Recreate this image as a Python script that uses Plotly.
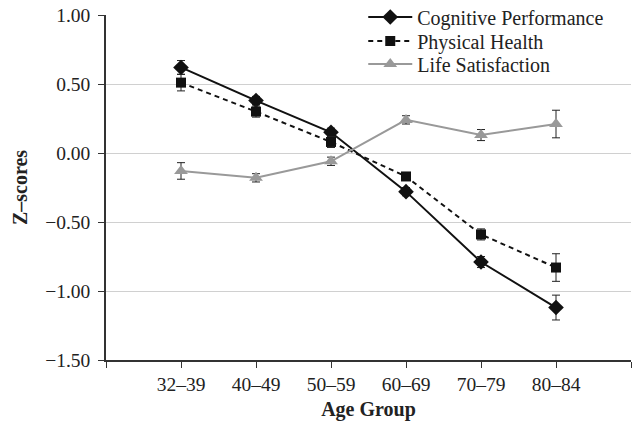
import plotly.graph_objects as go

age_groups = ["32–39", "40–49", "50–59", "60–69", "70–79", "80–84"]
cognitive = [0.62, 0.38, 0.15, -0.28, -0.79, -1.12]
cognitive_err = [0.05, 0.03, 0.03, 0.03, 0.04, 0.09]
physical = [0.51, 0.30, 0.08, -0.17, -0.59, -0.83]
physical_err = [0.06, 0.04, 0.04, 0.02, 0.04, 0.10]
life = [-0.13, -0.18, -0.06, 0.24, 0.13, 0.21]
life_err = [0.06, 0.03, 0.03, 0.03, 0.04, 0.10]
y_ticks = [1.0, 0.5, 0.0, -0.5, -1.0, -1.5]

xpos = list(range(len(age_groups)))
FONT = "Liberation Serif"
TICK_SIZE = 19.5
LEG_SIZE = 20

fig = go.Figure()

def add(name, vals, errs, color, dash, symbol, size, legend):
    fig.add_trace(go.Scatter(
        x=xpos, y=vals, name=name, mode="lines+markers", legend=legend,
        line=dict(color=color, width=2, dash=dash),
        marker=dict(symbol=symbol, size=size, color=color),
        error_y=dict(type="data", array=errs, visible=True,
                     color="#222222", thickness=1, width=4),
    ))

add("Cognitive Performance", cognitive, cognitive_err, "#111111", "solid", "diamond", 12, "legend")
add("Physical Health", physical, physical_err, "#111111", "5px,4px", "square", 10, "legend2")
add("Life Satisfaction", life, life_err, "#999999", "solid", "triangle-up", 12, "legend3")

def leg(yc):
    return dict(x=0.49, y=yc, xanchor="left", yanchor="middle",
                bgcolor="rgba(0,0,0,0)", font=dict(size=LEG_SIZE, family=FONT, color="#222222"),
                itemwidth=44)

# plot area spans page y 15..360 (345 px); legend rows centred at y≈17, 41, 64
def ypaper(page_y):
    return (360 - page_y) / 345.0

fig.update_layout(
    width=632, height=426,
    margin=dict(l=106, r=1, t=15, b=66, autoexpand=False),
    paper_bgcolor="white", plot_bgcolor="white",
    font=dict(family=FONT, size=TICK_SIZE, color="#222222"),
    showlegend=True,
    legend=leg(ypaper(17)),
    legend2=leg(ypaper(41)),
    legend3=leg(ypaper(64)),
    xaxis=dict(
        range=[-1, 6], tickmode="array",
        tickvals=[-1] + xpos + [6], ticktext=[""] + age_groups + [""],
        showgrid=False, zeroline=False,
        showline=True, linecolor="#333333", linewidth=1.5,
        ticks="outside", ticklen=6, tickcolor="#333333",
        tickfont=dict(size=TICK_SIZE, family=FONT),
        title=dict(text="<b>Age Group</b>", font=dict(size=20, family=FONT), standoff=8),
    ),
    yaxis=dict(
        range=[-1.5, 1.0], tickmode="array", tickvals=y_ticks,
        ticktext=[f"{v:.2f}".replace("-", "−") for v in y_ticks],
        showgrid=True, gridcolor="#d0d0d0", gridwidth=1, zeroline=False,
        showline=True, linecolor="#333333", linewidth=1.5,
        ticks="outside", ticklen=6, tickcolor="#333333",
        tickfont=dict(size=TICK_SIZE, family=FONT),
        ticklabeloverflow="allow", ticklabelstandoff=4,
        title=dict(text="<b>Z–scores</b>", font=dict(size=20, family=FONT), standoff=12),
    ),
)

fig.write_html("out.html", config={"displayModeBar": False},
               post_script="document.body.style.margin='0px';")
